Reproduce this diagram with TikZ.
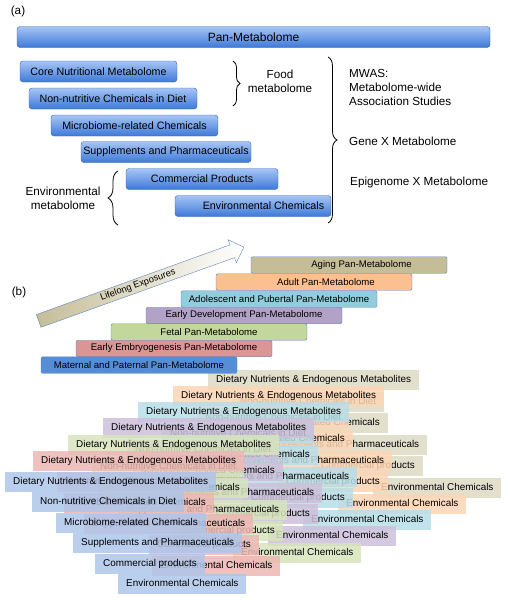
\documentclass[tikz,border=0pt]{standalone}
\usepackage{fontspec}
\setmainfont{Liberation Sans}
\usepackage{tikz}
\usetikzlibrary{calc}
\usetikzlibrary{shapes.arrows}
\usetikzlibrary{decorations.pathreplacing}
\usepackage{xcolor}
\definecolor{pan-top}{RGB}{166,197,245}
\definecolor{pan-bottom}{RGB}{62,121,216}
\definecolor{pan-edge}{RGB}{52,98,178}
\definecolor{stair-edge}{RGB}{96,132,192}
\definecolor{maternal-blue}{RGB}{85,142,213}
\definecolor{embryo-red}{RGB}{217,150,148}
\definecolor{fetal-green}{RGB}{195,214,155}
\definecolor{develop-purple}{RGB}{179,162,199}
\definecolor{adolescent-cyan}{RGB}{147,205,221}
\definecolor{adult-orange}{RGB}{250,192,144}
\definecolor{aging-tan}{RGB}{196,189,151}
\definecolor{maternal-light}{RGB}{174,198,234}
\definecolor{embryo-light}{RGB}{236,182,180}
\definecolor{fetal-light}{RGB}{215,228,189}
\definecolor{develop-light}{RGB}{204,192,218}
\definecolor{adolescent-light}{RGB}{183,222,232}
\definecolor{adult-light}{RGB}{252,213,181}
\definecolor{aging-light}{RGB}{221,217,196}
\tikzstyle{abox}=[draw=pan-edge, rounded corners=3pt, top color=pan-top, bottom color=pan-bottom, minimum height=21pt, inner sep=0pt, font=\fontsize{10.7}{12}\selectfont]
\tikzstyle{plaintext}=[inner sep=0pt, font=\fontsize{11.7}{14}\selectfont]
\tikzstyle{stairbox}=[draw=stair-edge, rounded corners=1.5pt, minimum width=196pt, minimum height=16.5pt, inner sep=0pt, font=\fontsize{9.6}{11}\selectfont]
\tikzstyle{stackbox}=[anchor=west, fill opacity=0.85, text opacity=1, minimum height=20pt, inner xsep=8pt, inner ysep=0pt, text height=7pt, text depth=2pt, font=\fontsize{9.9}{11}\selectfont]
\tikzstyle{lifearrow}=[single arrow, draw=stair-edge, left color=aging-tan, right color=white, minimum height=218pt, single arrow head extend=5.5pt, single arrow tip angle=90, inner ysep=2.5pt, text height=6.3pt, text depth=1.8pt, font=\fontsize{9.3}{11}\selectfont]
\tikzstyle{bracepath}=[decorate, thick]
\newcommand{\dietstack}[9]{
	\node[stackbox, fill=#2] (#1-d) at #3 {Dietary Nutrients \& Endogenous Metabolites};
	\node[stackbox, fill=#2] (#1-n) at ($#3+(#5,#4)$) {Non-nutritive Chemicals in Diet};
	\node[stackbox, fill=#2] (#1-m) at ($#3+(#6,2*#4)$) {Microbiome-related Chemicals};
	\node[stackbox, fill=#2] (#1-s) at ($#3+(#7,3*#4)$) {Supplements and Pharmaceuticals};
	\node[stackbox, fill=#2] (#1-c) at ($#3+(#8,4*#4)$) {Commercial products};
	\node[stackbox, fill=#2] (#1-e) at ($#3+(#9,5*#4)$) {Environmental Chemicals};
}

\begin{document}
\begin{tikzpicture}[x=1pt, y=-1pt]
	\useasboundingbox (0,0) rectangle (504,600);
	\node[plaintext] (alabel) at (18,11) {(a)};
	\node[abox, minimum width=473pt, font=\fontsize{12}{13}\selectfont] (pan) at (253.5,37) {Pan-Metabolome};
	\node[abox, minimum width=157pt] (core) at (98.5,71.5) {Core Nutritional Metabolome};
	\node[abox, minimum width=168pt] (nonnut) at (113,98.5) {Non-nutritive Chemicals in Diet};
	\node[abox, minimum width=167pt] (micro) at (134.5,125.5) {Microbiome-related Chemicals};
	\node[abox, minimum width=170pt] (supp) at (166,152) {Supplements and Pharmaceuticals};
	\node[abox, minimum width=152pt] (comm) at (202,179) {Commercial Products};
	\node[abox, minimum width=156pt] (envchem) at (253,206) {\hspace{21pt}Environmental Chemicals};
	\coordinate (food-top) at (233,61);
	\coordinate (food-bot) at (233,106);
	\draw[bracepath, decoration={brace, amplitude=7pt}] (food-top) -- (food-bot);
	\node[plaintext, align=center] (food) at (280,81) {Food\\metabolome};
	\coordinate (all-top) at (328,57);
	\coordinate (all-bot) at (328,223);
	\draw[bracepath, decoration={brace, amplitude=9pt}] (all-top) -- (all-bot);
	\node[plaintext, align=left, anchor=west] (mwas) at (349,87) {MWAS:\\Metabolome-wide\\Association Studies};
	\node[plaintext, anchor=west] (gene) at (349,141) {Gene X Metabolome};
	\node[plaintext, anchor=west] (epi) at (350,182) {Epigenome X Metabolome};
	\coordinate (env-bot) at (118,225);
	\coordinate (env-top) at (118,171);
	\draw[bracepath, decoration={brace, amplitude=10pt}] (env-bot) -- (env-top);
	\node[plaintext, align=center] (envmeta) at (63,198) {Environmental\\metabolome};

	\node[plaintext] (blabel) at (19,292) {(b)};
	\node[lifearrow, rotate=19.8, anchor=tail] (life) at (38.5,321) {Lifelong Exposures};
	\dietstack{agi}{aging-light}{(208,380)}{21.6}{24}{30}{50}{105}{165}
	\dietstack{adu}{adult-light}{(173,396)}{21.6}{24}{30}{50}{105}{165}
	\dietstack{ado}{adolescent-light}{(138,412)}{21.6}{24}{30}{50}{105}{165}
	\dietstack{dev}{develop-light}{(103,428)}{21.6}{24}{30}{50}{105}{165}
	\dietstack{fet}{fetal-light}{(68,445)}{21.6}{24}{30}{50}{105}{165}
	\dietstack{emb}{embryo-light}{(33,461)}{21}{24}{31}{51}{116}{119}
	\dietstack{mat}{maternal-light}{(5,482)}{20.4}{27}{51}{68}{90}{113}
	\node[stairbox, fill=aging-tan] (agi) at (349,265) {\hspace{25pt}Aging Pan-Metabolome};
	\node[stairbox, fill=adult-orange] (adu) at (314,282) {\hspace{24pt}Adult Pan-Metabolome};
	\node[stairbox, fill=adolescent-cyan] (ado) at (279,299) {Adolescent and Pubertal Pan-Metabolome};
	\node[stairbox, fill=develop-purple] (dev) at (244,315.5) {Early Development Pan-Metabolome};
	\node[stairbox, fill=fetal-green] (fet) at (209,332) {Fetal Pan-Metabolome};
	\node[stairbox, fill=embryo-red] (emb) at (174,348.5) {Early Embryogenesis Pan-Metabolome\hspace{9pt}};
	\node[stairbox, fill=maternal-blue] (mat) at (139,365) {Maternal and Paternal Pan-Metabolome\hspace{12pt}};
\end{tikzpicture}
\end{document}
